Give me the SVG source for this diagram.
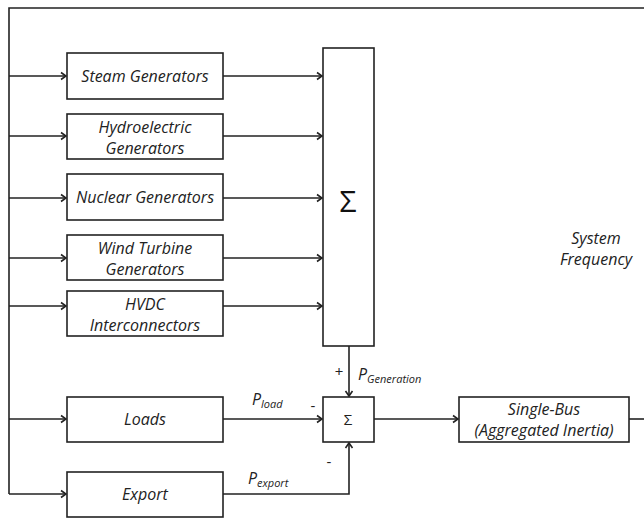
<svg xmlns="http://www.w3.org/2000/svg" width="644" height="519" viewBox="0 0 644 519">
<style>
.box{fill:#fff;stroke:#222;stroke-width:1.6}
.ln{fill:none;stroke:#222;stroke-width:1.6}
.t{font-family:"Open Sans","Noto Sans",sans-serif;font-style:italic;font-size:16px;fill:#222;text-anchor:middle}
.s{font-family:"Open Sans","Noto Sans",sans-serif;font-size:15px;fill:#222;text-anchor:middle}
.big{font-family:"Open Sans","Noto Sans",sans-serif;font-size:30px;fill:#111;text-anchor:middle}
.lab{font-family:"Open Sans","Noto Sans",sans-serif;font-style:italic;font-size:16px;fill:#222}
.sub{font-size:11px}
</style>
<defs>
<marker id="ar" markerWidth="10" markerHeight="10" refX="8" refY="5" orient="auto" markerUnits="userSpaceOnUse">
<polyline points="3,1.5 8,5 3,8.5" fill="none" stroke="#222" stroke-width="1.6"/>
</marker>
</defs>
<rect width="644" height="519" fill="#fff"/>
<g id="connectors">
<polyline class="ln" points="644,8 9,8 9,494"/>
<line class="ln" x1="9" y1="76" x2="66" y2="76" marker-end="url(#ar)"/>
<line class="ln" x1="9" y1="136" x2="66" y2="136" marker-end="url(#ar)"/>
<line class="ln" x1="9" y1="198" x2="66" y2="198" marker-end="url(#ar)"/>
<line class="ln" x1="9" y1="258" x2="66" y2="258" marker-end="url(#ar)"/>
<line class="ln" x1="9" y1="306" x2="66" y2="306" marker-end="url(#ar)"/>
<line class="ln" x1="9" y1="419" x2="66" y2="419" marker-end="url(#ar)"/>
<line class="ln" x1="9" y1="494" x2="66" y2="494" marker-end="url(#ar)"/>
<line class="ln" x1="223" y1="76" x2="322" y2="76" marker-end="url(#ar)"/>
<line class="ln" x1="223" y1="136" x2="322" y2="136" marker-end="url(#ar)"/>
<line class="ln" x1="223" y1="198" x2="322" y2="198" marker-end="url(#ar)"/>
<line class="ln" x1="223" y1="258" x2="322" y2="258" marker-end="url(#ar)"/>
<line class="ln" x1="223" y1="306" x2="322" y2="306" marker-end="url(#ar)"/>
<line class="ln" x1="349" y1="346" x2="349" y2="396" marker-end="url(#ar)"/>
<line class="ln" x1="223" y1="419" x2="322" y2="419" marker-end="url(#ar)"/>
<polyline class="ln" points="223,494 349,494 349,443" marker-end="url(#ar)"/>
<line class="ln" x1="374" y1="419" x2="458" y2="419" marker-end="url(#ar)"/>
<line class="ln" x1="629" y1="419" x2="644" y2="419"/>
<text class="s" x="339" y="377">+</text>
<text class="lab" x="358" y="380">P<tspan class="sub" dy="3">Generation</tspan></text>
<text class="s" x="313" y="411">-</text>
<text class="lab" x="252" y="405">P<tspan class="sub" dy="3">load</tspan></text>
<text class="s" x="329" y="467">-</text>
<text class="lab" x="248" y="484">P<tspan class="sub" dy="3">export</tspan></text>
</g>
<g id="steam"><rect class="box" x="67" y="53" width="156" height="46"/><text class="t" x="145" y="82">Steam Generators</text></g>
<g id="hydro"><rect class="box" x="67" y="114" width="156" height="45"/><text class="t" x="145" y="133">Hydroelectric</text><text class="t" x="145" y="154">Generators</text></g>
<g id="nuclear"><rect class="box" x="67" y="174" width="156" height="46"/><text class="t" x="145" y="203">Nuclear Generators</text></g>
<g id="wind"><rect class="box" x="67" y="235" width="156" height="45"/><text class="t" x="145" y="254">Wind Turbine</text><text class="t" x="145" y="275">Generators</text></g>
<g id="hvdc"><rect class="box" x="67" y="291" width="156" height="45"/><text class="t" x="145" y="310">HVDC</text><text class="t" x="145" y="331">Interconnectors</text></g>
<g id="loads"><rect class="box" x="67" y="397" width="156" height="45"/><text class="t" x="145" y="425">Loads</text></g>
<g id="export"><rect class="box" x="67" y="472" width="156" height="45"/><text class="t" x="145" y="500">Export</text></g>
<g id="bigsum"><rect class="box" x="323" y="48" width="51" height="298"/><text class="big" x="348" y="212">Σ</text></g>
<g id="sum"><rect class="box" x="323" y="397" width="51" height="45"/><text class="s" x="348" y="425">Σ</text></g>
<g id="singlebus"><rect class="box" x="459" y="397" width="170" height="45"/><text class="t" x="544" y="415">Single-Bus</text><text class="t" x="544" y="436">(Aggregated Inertia)</text></g>
<g id="freq"><text class="t" x="596" y="244">System</text><text class="t" x="596" y="265">Frequency</text></g>
</svg>
